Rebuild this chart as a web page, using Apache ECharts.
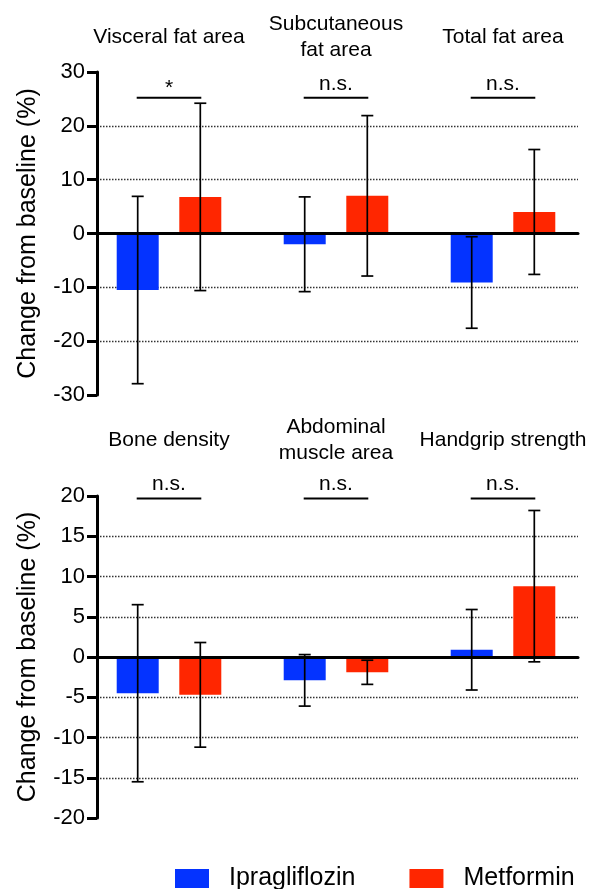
<!DOCTYPE html>
<html>
<head>
<meta charset="utf-8">
<script src="https://cdn.jsdelivr.net/npm/echarts@6/dist/echarts.min.js"></script>
<style>html,body{margin:0;padding:0;background:#fff}#c{width:593px;height:889px}</style>
</head>
<body>
<div id="c"></div>
<script>
const topCategories = ['Visceral fat area', 'Subcutaneous\nfat area', 'Total fat area'];
const bottomCategories = ['Bone density', 'Abdominal\nmuscle area', 'Handgrip strength'];
const seriesNames = ['Ipragliflozin', 'Metformin'];
const topIpra = [-10.5, -2.0, -9.1];
const topIpraSD = [17.4, 8.8, 8.5];
const topMet = [6.8, 7.0, 4.0];
const topMetSD = [17.4, 14.9, 11.6];
const bottomIpra = [-4.5, -2.9, 0.9];
const bottomIpraSD = [11.0, 3.2, 5.0];
const bottomMet = [-4.7, -1.9, 8.8];
const bottomMetSD = [6.5, 1.5, 9.4];
const topSig = ['*', 'n.s.', 'n.s.'];
const bottomSig = ['n.s.', 'n.s.', 'n.s.'];
const topSigLevel = 25.2;
const bottomSigLevel = 19.7;
const topAxis = { min: -30, max: 30, interval: 10 };
const bottomAxis = { min: -20, max: 20, interval: 5 };
const yName = 'Change from baseline (%)';

const FONT = "'Liberation Sans', Helvetica, Arial, sans-serif";
const BLUE = '#0433FF', RED = '#FF2600';
const HALF = 31.3; // px offset of each bar from category centre

const chart = echarts.init(document.getElementById('c'));
const option = {
  animation: false,
  textStyle: { fontFamily: FONT, color: '#000' },
  legend: {
    data: seriesNames, left: 175, top: 866, padding: 0,
    itemWidth: 34, itemHeight: 19, itemGap: 54, icon: 'rect',
    textStyle: { fontSize: 25, color: '#000', fontFamily: FONT, padding: [0, 0, 0, 15] }
  },
  grid: [], xAxis: [], yAxis: [], series: []
};

function addPanel(p, cats, ipra, ipraSD, met, metSD, sig, sigLevel, ax, top, height, labelMargin) {
  const ga = 2 * p, gb = 2 * p + 1;
  option.grid.push({ left: 97, width: 481, top: top, height: height });
  option.grid.push({ left: 85.5, width: 501, top: top, height: height });
  option.xAxis.push({
    gridIndex: ga, type: 'category', data: cats, z: 10,
    axisLine: { onZero: true, lineStyle: { color: '#000', width: 3 } },
    axisTick: { show: false }, axisLabel: { show: false }, splitLine: { show: false }
  });
  option.xAxis.push({
    gridIndex: gb, type: 'category', data: cats, position: 'top',
    axisLine: { show: false }, axisTick: { show: false }, splitLine: { show: false },
    axisLabel: { interval: 0, fontSize: 21, color: '#000', fontFamily: FONT, lineHeight: 26,
      verticalAlign: 'middle', margin: labelMargin }
  });
  option.yAxis.push({
    gridIndex: ga, type: 'value', min: ax.min, max: ax.max, interval: ax.interval,
    name: yName, nameLocation: 'middle', nameGap: 56,
    nameTextStyle: { fontSize: 25, color: '#000', fontFamily: FONT },
    axisLine: { show: true, lineStyle: { color: '#000', width: 3 } },
    axisTick: { show: true, length: 10, lineStyle: { color: '#000', width: 3 } },
    axisLabel: { fontSize: 22, color: '#000', margin: 12, fontFamily: FONT },
    splitLine: { show: true, showMinLine: false, showMaxLine: false,
      lineStyle: { type: [1.5, 1.5], color: '#333', width: 1.3 } }
  });
  option.yAxis.push({ gridIndex: gb, type: 'value', min: ax.min, max: ax.max, interval: ax.interval, show: false });

  const common = { type: 'bar', xAxisIndex: gb, yAxisIndex: gb, barWidth: 42, barGap: '49%', z: 2 };
  option.series.push(Object.assign({ name: seriesNames[0], data: ipra, itemStyle: { color: BLUE } }, common));
  option.series.push(Object.assign({ name: seriesNames[1], data: met, itemStyle: { color: RED } }, common));

  function errSeries(vals, sds, off) {
    return {
      type: 'custom', xAxisIndex: gb, yAxisIndex: gb, z: 12, silent: true,
      data: vals.map((v, i) => [i, v, sds[i]]),
      renderItem: function (params, api) {
        const i = api.value(0), m = api.value(1), s = api.value(2);
        const hi = api.coord([i, m + s]), lo = api.coord([i, m - s]);
        const x = hi[0] + off, st = { stroke: '#000', lineWidth: 1.7 };
        return { type: 'group', children: [
          { type: 'line', shape: { x1: x, y1: hi[1], x2: x, y2: lo[1] }, style: st },
          { type: 'line', shape: { x1: x - 6, y1: hi[1], x2: x + 6, y2: hi[1] }, style: st },
          { type: 'line', shape: { x1: x - 6, y1: lo[1], x2: x + 6, y2: lo[1] }, style: st }
        ] };
      }
    };
  }
  option.series.push(errSeries(ipra, ipraSD, -HALF));
  option.series.push(errSeries(met, metSD, HALF));

  option.series.push({
    type: 'custom', xAxisIndex: gb, yAxisIndex: gb, z: 12, silent: true, clip: false,
    data: sig.map((s, i) => [i, sigLevel]),
    renderItem: function (params, api) {
      const c = api.coord([api.value(0), api.value(1)]);
      const label = sig[params.dataIndex];
      const dy = label === '*' ? -10 : -14;
      return { type: 'group', children: [
        { type: 'line', shape: { x1: c[0] - HALF - 1, y1: c[1], x2: c[0] + HALF + 1, y2: c[1] },
          style: { stroke: '#000', lineWidth: 2 } },
        { type: 'text', x: c[0], y: c[1] + dy,
          style: { text: label, fontSize: 21, fontFamily: FONT, fill: '#000', align: 'center', verticalAlign: 'middle' } }
      ] };
    }
  });
}

addPanel(0, topCategories, topIpra, topIpraSD, topMet, topMetSD, topSig, topSigLevel, topAxis, 72, 323, 35);
addPanel(1, bottomCategories, bottomIpra, bottomIpraSD, bottomMet, bottomMetSD, bottomSig, bottomSigLevel, bottomAxis, 496, 322, 56);

chart.setOption(option);
</script>
</body>
</html>
